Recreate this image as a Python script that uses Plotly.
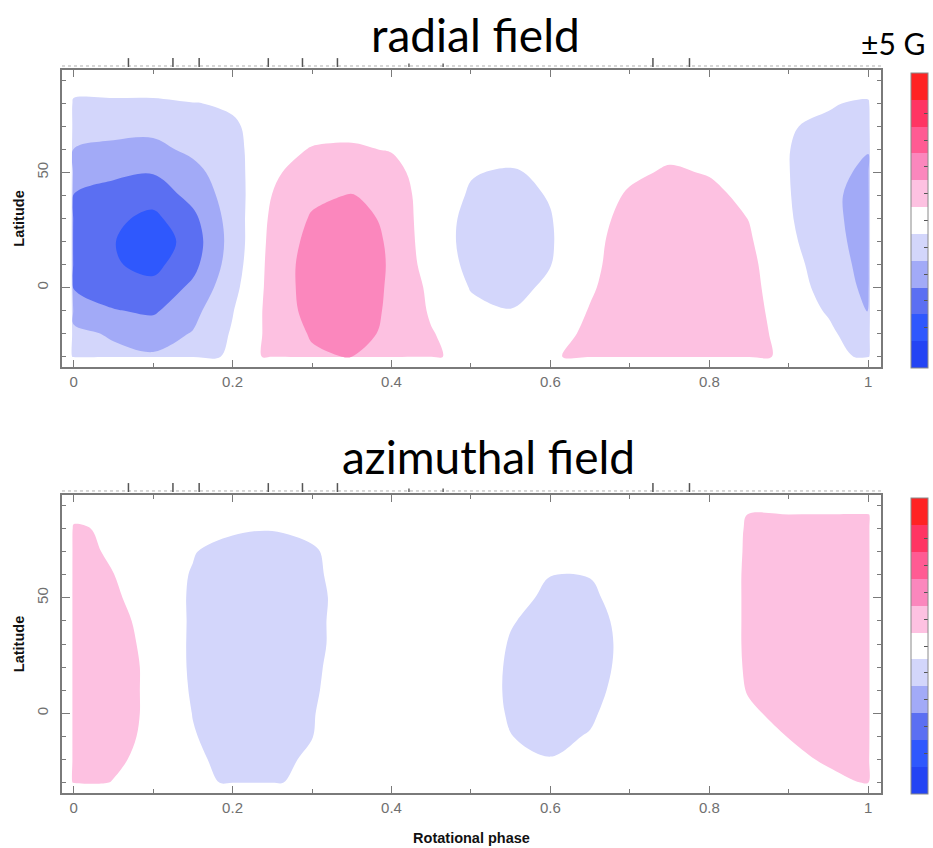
import numpy as np
import plotly.graph_objects as go

# Map grid: rotational phase (columns) and stellar latitude in degrees (rows)
phase = [0.00, 0.05, 0.10, 0.15, 0.20, 0.25, 0.30, 0.35, 0.40, 0.45, 0.50,
         0.55, 0.60, 0.65, 0.70, 0.75, 0.80, 0.85, 0.90, 0.95, 1.00]
latitude = [-30, -20, -10, 0, 10, 20, 30, 40, 50, 60, 70, 80, 86]

# Radial field (G): one latitude profile per phase column
radial_by_phase = [
    [-1.2, -1.3, -1.8, -2.58, -3.0, -3.2, -3.0, -2.55, -2.0, -1.52, -1.1, -1.0, 0.3],
    [-1.3, -1.6, -2.45, -3.0, -3.4, -3.45, -3.3, -2.9, -2.3, -1.7, -1.2, -1.0, 0.3],
    [-1.4, -1.9, -2.65, -3.2, -3.8, -4.2, -3.75, -3.1, -2.45, -1.75, -1.25, -1.0, 0.3],
    [-1.2, -1.45, -1.8, -2.3, -2.8, -3.0, -2.75, -2.2, -1.8, -1.3, -0.9, -0.55, 0.3],
    [-0.2, -0.4, -0.55, -0.8, -1.0, -1.1, -1.05, -1.0, -0.9, -0.8, -0.65, -0.35, 0.2],
    [0.75, 0.8, 0.85, 0.85, 0.85, 0.8, 0.7, 0.52, 0.35, 0.2, 0.05, 0.0, 0.0],
    [1.35, 1.6, 1.85, 1.95, 1.95, 1.8, 1.6, 1.3, 0.95, 0.55, 0.2, 0.05, 0.0],
    [1.55, 2.0, 2.3, 2.4, 2.4, 2.3, 2.0, 1.55, 1.05, 0.6, 0.25, 0.05, 0.0],
    [1.1, 1.2, 1.25, 1.3, 1.35, 1.3, 1.2, 1.05, 0.8, 0.45, 0.15, 0.0, 0.0],
    [0.75, 0.55, 0.4, 0.3, 0.05, -0.05, -0.05, 0.0, 0.0, 0.0, 0.0, 0.0, 0.0],
    [-0.1, 0.07, -0.29, -0.55, -0.71, -0.77, -0.73, -0.59, -0.45, -0.05, 0.0, 0.0, 0.0],
    [0.0, -0.1, -0.48, -0.72, -0.88, -0.94, -0.9, -0.76, -0.6, -0.1, 0.0, 0.0, 0.0],
    [0.35, 0.1, -0.1, -0.36, -0.52, -0.58, -0.54, -0.45, -0.3, 0.0, 0.0, 0.0, 0.0],
    [0.85, 0.7, 0.55, 0.4, 0.3, 0.25, 0.15, 0.1, 0.05, 0.0, 0.0, 0.0, 0.0],
    [1.1, 1.1, 1.05, 1.0, 0.95, 0.9, 0.8, 0.6, 0.35, 0.1, 0.0, 0.0, 0.0],
    [1.2, 1.2, 1.2, 1.2, 1.15, 1.1, 1.0, 0.85, 0.6, 0.3, 0.05, 0.0, 0.0],
    [1.1, 1.1, 1.1, 1.1, 1.05, 1.0, 0.9, 0.7, 0.45, 0.2, 0.0, 0.0, 0.0],
    [0.9, 0.85, 0.8, 0.75, 0.7, 0.6, 0.48, 0.3, 0.1, 0.0, -0.1, -0.2, 0.0],
    [0.2, 0.15, 0.05, -0.05, -0.15, -0.3, -0.4, -0.45, -0.48, -0.48, -0.4, -0.1, 0.0],
    [0.0, -0.3, -0.6, -0.85, -1.0, -1.15, -1.25, -1.3, -1.2, -1.0, -0.8, -0.35, 0.0],
    [-0.8, -1.2, -1.55, -1.75, -1.85, -1.9, -1.9, -1.85, -1.7, -1.45, -1.1, -0.8, 0.3],
]

# Azimuthal field (G): one latitude profile per phase column
azimuthal_by_phase = [
    [0.9, 1.0, 1.0, 1.0, 1.0, 1.0, 1.0, 1.0, 1.0, 0.98, 0.95, 0.8, -0.2],
    [0.45, 0.75, 0.85, 0.9, 0.9, 0.9, 0.85, 0.8, 0.65, 0.52, 0.3, 0.1, 0.0],
    [-0.1, 0.05, 0.25, 0.3, 0.3, 0.3, 0.25, 0.15, 0.0, -0.1, -0.2, -0.1, 0.0],
    [-0.2, -0.35, -0.45, -0.52, -0.6, -0.65, -0.65, -0.62, -0.6, -0.55, -0.45, -0.3, 0.0],
    [-0.65, -0.75, -0.85, -0.9, -0.95, -0.95, -0.95, -0.95, -0.95, -0.9, -0.85, -0.35, 0.0],
    [-0.7, -0.85, -0.95, -1.0, -1.0, -1.0, -1.0, -1.0, -1.0, -0.95, -0.9, -0.45, 0.0],
    [0.0, -0.3, -0.52, -0.55, -0.6, -0.65, -0.7, -0.7, -0.7, -0.65, -0.6, -0.3, 0.0],
    [0.1, 0.05, 0.0, 0.0, -0.1, -0.1, -0.15, -0.15, -0.2, -0.15, -0.1, 0.0, 0.0],
    [0.0, 0.0, 0.0, 0.0, 0.0, 0.0, 0.0, 0.0, 0.0, 0.0, 0.0, 0.0, 0.0],
    [0.0, 0.0, 0.0, 0.0, 0.0, 0.0, 0.0, 0.0, 0.0, 0.0, 0.0, 0.0, 0.0],
    [0.0, 0.0, 0.0, -0.06, -0.07, -0.03, 0.0, 0.0, 0.0, 0.0, 0.0, 0.0, 0.0],
    [-0.17, -0.35, -0.49, -0.575, -0.615, -0.61, -0.555, -0.455, -0.31, -0.11, 0.0, 0.0, 0.0],
    [-0.27, -0.48, -0.64, -0.755, -0.82, -0.84, -0.82, -0.745, -0.62, -0.49, -0.2, 0.0, 0.0],
    [-0.03, -0.27, -0.46, -0.6, -0.69, -0.74, -0.74, -0.695, -0.6, -0.48, -0.2, 0.0, 0.0],
    [0.0, 0.0, 0.0, -0.1, -0.23, -0.3, -0.33, -0.31, -0.24, -0.13, 0.0, 0.0, 0.0],
    [0.0, 0.0, 0.0, 0.0, 0.0, 0.0, 0.0, 0.0, 0.0, 0.0, 0.0, 0.0, 0.0],
    [0.0, 0.0, 0.0, 0.0, 0.0, 0.0, 0.0, 0.0, 0.0, 0.0, 0.0, 0.0, 0.0],
    [-0.1, 0.0, 0.2, 0.4, 0.55, 0.6, 0.62, 0.62, 0.62, 0.62, 0.6, 0.58, 0.55],
    [0.05, 0.3, 0.52, 0.7, 0.8, 0.85, 0.85, 0.85, 0.85, 0.85, 0.85, 0.85, 0.8],
    [0.3, 0.6, 0.8, 0.9, 0.95, 0.95, 0.95, 0.95, 0.95, 0.95, 0.95, 0.9, 0.85],
    [0.55, 0.8, 0.95, 1.0, 1.0, 1.0, 1.0, 1.0, 1.0, 1.0, 1.0, 0.95, 0.85],
]

# Phases of the individual observations (marked above each map)
obs_phases = [0.069, 0.125, 0.158, 0.245, 0.288, 0.332, 0.729, 0.775]
obs_phases_minor = [0.422, 0.465]

# Field scale: +/-5 G in 1 G bands, blue negative, red positive
field_limit = 5.5
band_step = 1.0
band_colors = ["#2444f4", "#2f58fd", "#5b6ff2", "#a2aaf7", "#d3d6fb", "#ffffff",
               "#fdc1e1", "#fb87bd", "#ff5b93", "#ff3563", "#ff2323"]
colorbar_ticks = [-4, -3, -2, -1, 0, 1, 2, 3, 4]

x_ticks = [0, 0.2, 0.4, 0.6, 0.8, 1]
x_ticktext = ["0", "0.2", "0.4", "0.6", "0.8", "1"]
y_ticks = [0, 50]

n_bands = len(band_colors)
colorscale = []
for i, c in enumerate(band_colors):
    colorscale.append([i / n_bands, c])
    colorscale.append([(i + 1) / n_bands, c])

# Zero field outside the mapped strip; the ring lies outside the plotted range
phase_grid = [-0.05, -0.003] + phase + [1.003, 1.05]
lat_grid = [-45, -30.3] + latitude + [86.3, 100]


def field_table(by_phase):
    z = np.array(by_phase, dtype=float).T
    return np.pad(z, 2, mode="constant", constant_values=0.0)


W, H = 933, 848
x_dom = [62 / W, 881 / W]
panels = [
    dict(name="radial field", z=field_table(radial_by_phase),
         ydom=[1 - 367 / H, 1 - 70 / H], title_y=1 - 34 / H, title_x=475 / W),
    dict(name="azimuthal field", z=field_table(azimuthal_by_phase),
         ydom=[1 - 793 / H, 1 - 495 / H], title_y=1 - 456 / H, title_x=488 / W),
]

fig = go.Figure()
frame_col = "#7a7a7a"
tick_font = dict(family="Liberation Sans, Arial, sans-serif", size=15, color="#707070")
label_font = dict(family="Liberation Sans, Arial, sans-serif", size=14.5,
                  color="#111111", weight="bold")

layout = dict(width=W, height=H, margin=dict(l=0, r=0, t=0, b=0),
              paper_bgcolor="white", plot_bgcolor="white", showlegend=False)
shapes = []
annotations = []

for k, p in enumerate(panels):
    sfx = "" if k == 0 else str(k + 1)
    fig.add_trace(go.Contour(
        x=phase_grid, y=lat_grid, z=p["z"],
        xaxis="x" + sfx, yaxis="y" + sfx,
        colorscale=colorscale, zmin=-field_limit, zmax=field_limit,
        autocontour=False,
        contours=dict(start=-field_limit, end=field_limit, size=band_step,
                      coloring="fill", showlines=False),
        line=dict(width=0, smoothing=1.0),
        hoverinfo="skip",
        colorbar=dict(
            x=911 / W, xanchor="left", xpad=0,
            y=p["ydom"][1] - 3 / H, yanchor="top", ypad=0,
            len=(p["ydom"][1] - p["ydom"][0]) - 2 / H, lenmode="fraction",
            thickness=17, thicknessmode="pixels",
            outlinecolor="#8a8a8a", outlinewidth=1,
            tickvals=colorbar_ticks, ticks="inside", ticklen=4,
            tickcolor="#555555", showticklabels=False,
        ),
    ))

    axis_common = dict(showgrid=False, zeroline=False, showline=True,
                       linecolor=frame_col, linewidth=1.6, mirror="allticks",
                       ticks="inside", tickcolor=frame_col, tickwidth=1.2,
                       tickfont=tick_font)
    layout["xaxis" + sfx] = dict(
        axis_common, domain=x_dom, anchor="y" + sfx,
        range=[-0.0146, 1.016], tickvals=x_ticks, ticktext=x_ticktext, ticklen=7,
        minor=dict(dtick=0.1, tick0=0, ticklen=4, ticks="inside", tickcolor=frame_col),
        title=dict(text="Rotational phase" if k == 1 else "",
                   font=label_font, standoff=18),
    )
    layout["yaxis" + sfx] = dict(
        axis_common, domain=p["ydom"], anchor="x" + sfx,
        range=[-34.5, 94.5], tickvals=y_ticks, tickangle=-90, ticklen=8,
        ticklabelstandoff=6,
        minor=dict(dtick=10, tick0=0, ticklen=4, ticks="inside", tickcolor=frame_col),
        title=dict(text="Latitude", font=label_font, standoff=6),
    )

    # dotted baseline and observation markers above the map
    shapes.append(dict(type="line", xref="x" + sfx, yref="y" + sfx + " domain",
                       x0=-0.0146, x1=1.016, y0=1.0135, y1=1.0135,
                       line=dict(color="#b0b0b0", width=1, dash="dot")))
    for ph in obs_phases:
        shapes.append(dict(type="line", xref="x" + sfx, yref="y" + sfx + " domain",
                           x0=ph, x1=ph, y0=1.010, y1=1.040,
                           line=dict(color="#555555", width=1.5)))
    for ph in obs_phases_minor:
        shapes.append(dict(type="line", xref="x" + sfx, yref="y" + sfx + " domain",
                           x0=ph, x1=ph, y0=1.010, y1=1.022,
                           line=dict(color="#666666", width=1.5)))

    annotations.append(dict(text=p["name"], xref="paper", yref="paper",
                            x=p["title_x"], y=p["title_y"], xanchor="center",
                            yanchor="middle", showarrow=False,
                            font=dict(family="Lato, Open Sans, sans-serif",
                                      size=46, color="#000000")))

annotations.append(dict(text="±5 G", xref="paper", yref="paper",
                        x=859 / W, y=1 - 43 / H, xanchor="left", yanchor="middle",
                        showarrow=False,
                        font=dict(family="Lato, Open Sans, sans-serif", size=30,
                                  color="#000000")))

layout["shapes"] = shapes
layout["annotations"] = annotations
fig.update_layout(**layout)

fig.write_html("out.html")
